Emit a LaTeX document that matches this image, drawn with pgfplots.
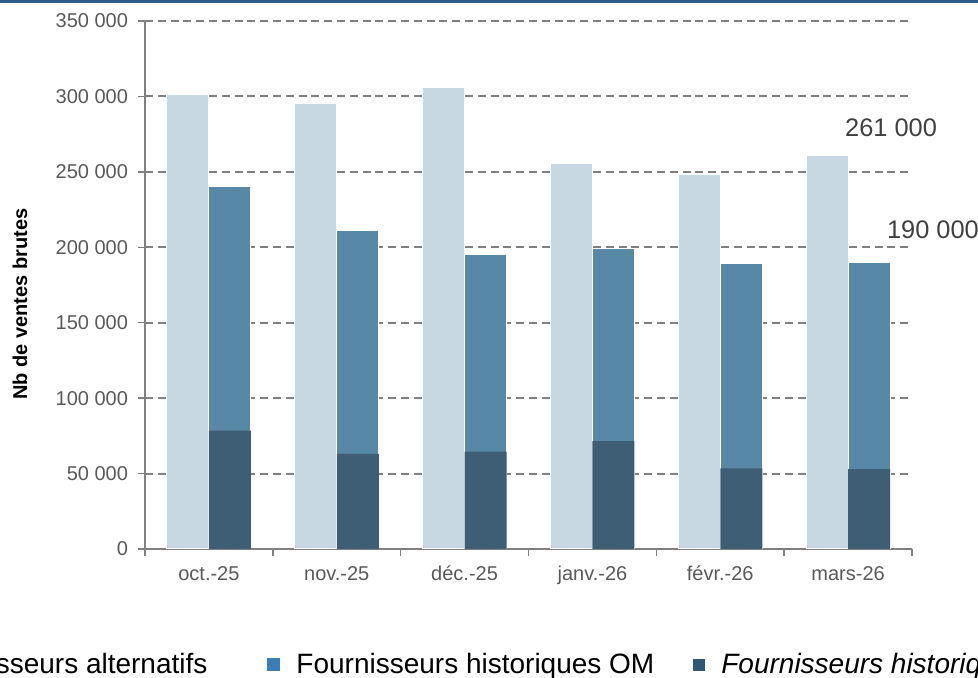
\documentclass[border=0pt]{standalone}
\usepackage{pgfplots}
\pgfplotsset{compat=1.18}
\usepackage{pgfplotstable}
\usepackage{fontspec}
\setmainfont{Liberation Sans}

\definecolor{clair}{RGB}{199,216,226}
\definecolor{moyen}{RGB}{87,136,166}
\definecolor{fonce}{RGB}{61,94,116}
\definecolor{legclair}{RGB}{190,210,225}
\definecolor{legmoyen}{RGB}{59,125,184}
\definecolor{legfonce}{RGB}{46,88,120}
\definecolor{bandeau}{RGB}{44,95,135}
\definecolor{txt}{RGB}{89,89,89}
\definecolor{annot}{RGB}{64,64,64}
\definecolor{grille}{RGB}{128,128,128}

% x : mois (0 = oct.-25), alt : fournisseurs alternatifs,
% om : fournisseurs historiques OM, hors : partie italique
\pgfplotstableread{
x alt om hors
0 301000 240000 78500
1 295000 211000 63000
2 306000 195500 64500
3 255500 199000 71500
4 248000 189500 53500
5 261000 190000 53000
}\ventes

\begin{document}
\begin{tikzpicture}
\useasboundingbox (0,0) rectangle (489pt,339pt);
\clip (0,0) rectangle (489pt,339pt);
\fill[bandeau] (0,337.5pt) rectangle (489pt,339pt);
\begin{axis}[
    at={(72.5pt,64.5pt)}, anchor=south west,
    scale only axis, width=383.5pt, height=264pt,
    xmin=-0.5, xmax=5.5, ymin=0, ymax=350000,
    ybar, bar width=21pt,
    axis x line*=bottom, axis y line*=left,
    axis line style={draw=gray, line width=0.75pt, -},
    xtick={-0.5,0.5,1.5,2.5,3.5,4.5,5.5},
    x tick label as interval,
    xticklabels={oct.-25,nov.-25,déc.-25,janv.-26,févr.-26,mars-26},
    scaled y ticks=false,
    ytick={0,50000,100000,150000,200000,250000,300000,350000},
    yticklabels={0,50 000,100 000,150 000,200 000,250 000,300 000,350 000},
    tick align=outside, major tick length=3.5pt,
    tick style={draw=gray, line width=0.75pt},
    ticklabel style={font=\fontsize{10}{12}\selectfont, text=txt},
    yticklabel style={xshift=-1.5pt},
    xticklabel style={yshift=-1.5pt},
    ymajorgrids,
    grid style={dash pattern=on 4pt off 2.4pt, line width=1pt, grille},
    ylabel={Nb de ventes brutes},
    ylabel style={at={(axis description cs:-0.163,0.464)}, anchor=center,
        font=\bfseries\fontsize{10}{12}\selectfont},
    legend columns=3,
    legend style={at={(axis description cs:-0.3441,-0.2197)}, anchor=west,
        draw=none, fill=none, font=\fontsize{14}{16}\selectfont,
        /tikz/every odd column/.append style={column sep=6pt},
        /tikz/column 2/.style={column sep=28pt},
        /tikz/column 4/.style={column sep=17.5pt}},
    clip=false,
]
\addplot[fill=clair, draw=white, line width=0.5pt, bar shift=-10.5pt,
    legend image code/.code={\fill[legclair] (0pt,-3pt) rectangle (6pt,3pt);}]
    table[x=x, y=alt]{\ventes};
\addlegendentry{Fournisseurs alternatifs}
\addplot[fill=moyen, draw=white, line width=0.5pt, bar shift=10.5pt,
    legend image code/.code={\fill[legmoyen] (0pt,-3pt) rectangle (6pt,3pt);}]
    table[x=x, y=om]{\ventes};
\addlegendentry{Fournisseurs historiques OM}
\addplot[fill=fonce, draw=none, bar shift=10.5pt,
    legend image code/.code={\fill[legfonce] (0pt,-3pt) rectangle (6pt,3pt);}]
    table[x=x, y=hors]{\ventes};
\addlegendentry{\textit{Fournisseurs historiques hors OM}}

\node[text=annot, font=\fontsize{12.7}{15}\selectfont] at (axis cs:5.336,279100) {261 000};
\node[text=annot, font=\fontsize{12.7}{15}\selectfont] at (axis cs:5.664,211500) {190 000};
\end{axis}
\end{tikzpicture}
\end{document}
